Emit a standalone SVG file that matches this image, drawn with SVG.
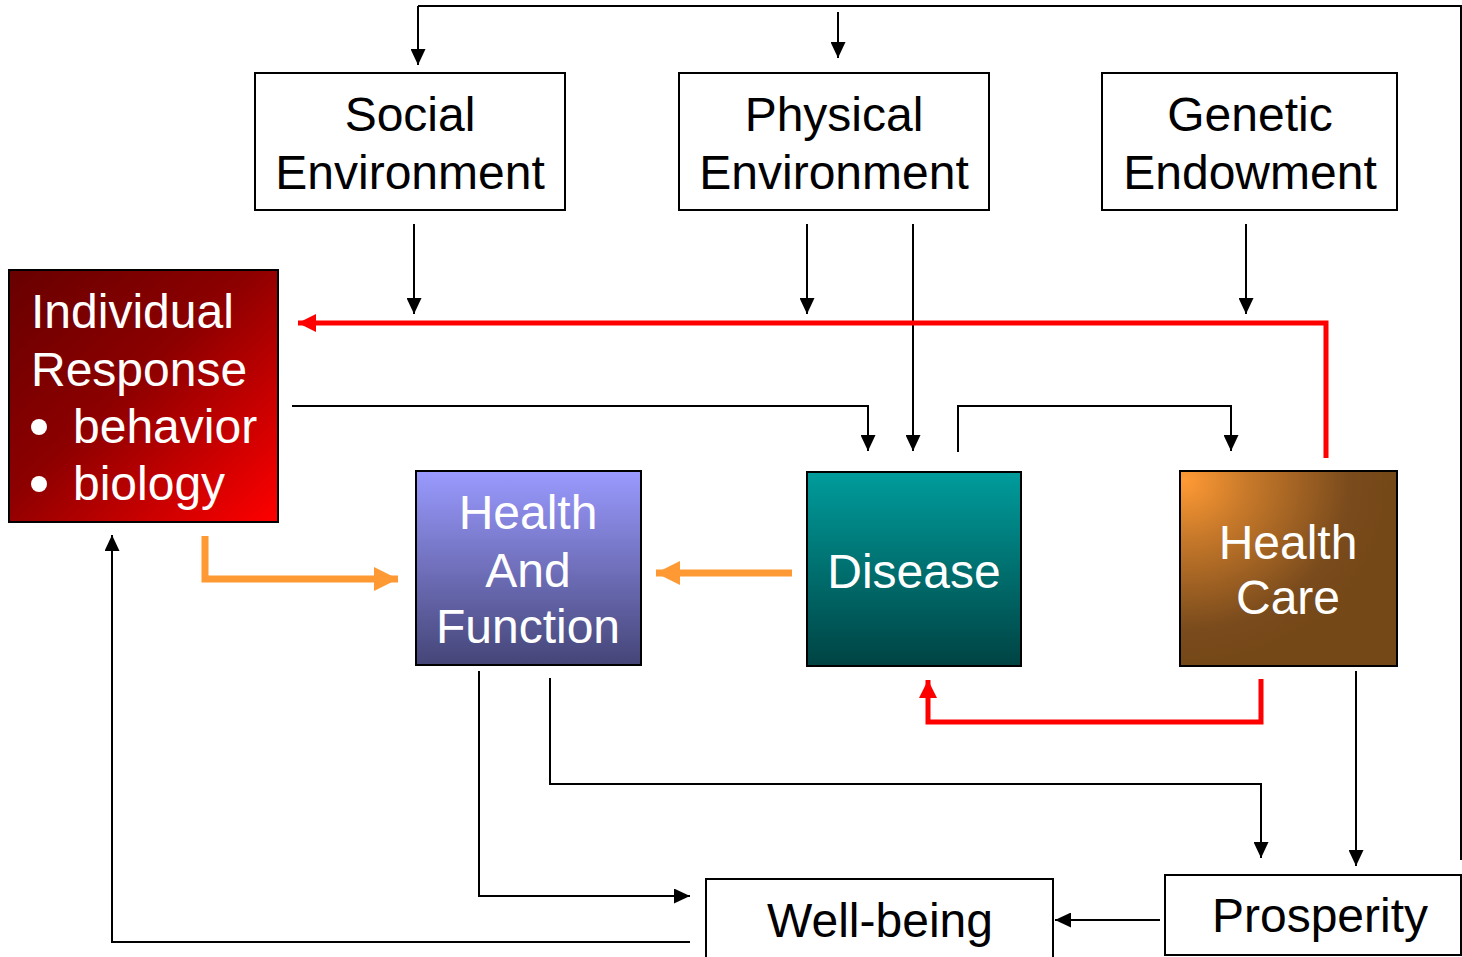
<svg xmlns="http://www.w3.org/2000/svg" width="1462" height="957" viewBox="0 0 1462 957">
<defs>
<style>
.box{fill:#fff;stroke:#000;stroke-width:2}
.dark{stroke:#000;stroke-width:2}
.t{font-family:"Liberation Sans",Arial,sans-serif;font-size:48px;fill:#000}
.w{fill:#fff}
.c{text-anchor:middle}
.k{fill:none;stroke:#000;stroke-width:2}
.r{fill:none;stroke:#ff0000;stroke-width:5}
.o{fill:none;stroke:#ff9933;stroke-width:7}
</style>
<linearGradient id="gIR" x1="0" y1="0" x2="1" y2="1">
<stop offset="0" stop-color="#680000"/>
<stop offset="0.45" stop-color="#8c0000"/>
<stop offset="1" stop-color="#ff0000"/>
</linearGradient>
<linearGradient id="gHF" x1="0" y1="0" x2="0" y2="1">
<stop offset="0" stop-color="#9a9aff"/>
<stop offset="1" stop-color="#454578"/>
</linearGradient>
<linearGradient id="gD" x1="0" y1="0" x2="0" y2="1">
<stop offset="0" stop-color="#009c9c"/>
<stop offset="1" stop-color="#004343"/>
</linearGradient>
<radialGradient id="gHC" cx="0.02" cy="0.05" r="0.95" fx="0.02" fy="0.05">
<stop offset="0" stop-color="#ff9a35"/>
<stop offset="0.3" stop-color="#c97a2a"/>
<stop offset="0.8" stop-color="#7a4b1c"/>
<stop offset="1" stop-color="#754818"/>
</radialGradient>
<marker id="ak" markerUnits="userSpaceOnUse" markerWidth="16" markerHeight="15" refX="16" refY="7.5" orient="auto" viewBox="0 0 16 15">
<path d="M0,0 L16,7.5 L0,15 z" fill="#000"/>
</marker>
<marker id="ar" markerUnits="userSpaceOnUse" markerWidth="18" markerHeight="18" refX="18" refY="9" orient="auto" viewBox="0 0 18 18">
<path d="M0,0 L18,9 L0,18 z" fill="#ff0000"/>
</marker>
<marker id="ao" markerUnits="userSpaceOnUse" markerWidth="24" markerHeight="24" refX="24" refY="12" orient="auto" viewBox="0 0 24 24">
<path d="M0,0 L24,12 L0,24 z" fill="#ff9933"/>
</marker>
</defs>
<rect width="1462" height="957" fill="#fff"/>

<g id="connectors">
<path class="k" d="M418,6 H1461 V860"/>
<path class="k" d="M418,6 V65" marker-end="url(#ak)"/>
<path class="k" d="M838,12 V58" marker-end="url(#ak)"/>
<path class="k" d="M414,224 V314" marker-end="url(#ak)"/>
<path class="k" d="M807,224 V314" marker-end="url(#ak)"/>
<path class="k" d="M913,224 V451" marker-end="url(#ak)"/>
<path class="k" d="M1246,224 V314" marker-end="url(#ak)"/>
<path class="r" d="M1326,458 V323 H298" marker-end="url(#ar)"/>
<path class="k" d="M292,406 H868 V451" marker-end="url(#ak)"/>
<path class="k" d="M958,452 V406 H1231 V451" marker-end="url(#ak)"/>
<path class="o" d="M205,536 V579 H398" marker-end="url(#ao)"/>
<path class="o" d="M792,573 H656" marker-end="url(#ao)"/>
<path class="r" d="M1261,679 V722 H928 V680" marker-end="url(#ar)"/>
<path class="k" d="M479,671 V896 H690" marker-end="url(#ak)"/>
<path class="k" d="M550,678 V784 H1261 V858" marker-end="url(#ak)"/>
<path class="k" d="M1356,671 V866" marker-end="url(#ak)"/>
<path class="k" d="M1160,920 H1055" marker-end="url(#ak)"/>
<path class="k" d="M690,942 H112 V535" marker-end="url(#ak)"/>
</g>

<g id="social">
<rect class="box" x="255" y="73" width="310" height="137"/>
<text class="t c" x="410" y="131">Social</text>
<text class="t c" x="410" y="189">Environment</text>
</g>
<g id="physical">
<rect class="box" x="679" y="73" width="310" height="137"/>
<text class="t c" x="834" y="131">Physical</text>
<text class="t c" x="834" y="189">Environment</text>
</g>
<g id="genetic">
<rect class="box" x="1102" y="73" width="295" height="137"/>
<text class="t c" x="1250" y="131">Genetic</text>
<text class="t c" x="1250" y="189">Endowment</text>
</g>
<g id="individual">
<rect x="9" y="270" width="269" height="252" fill="url(#gIR)" class="dark"/>
<text class="t w" x="31" y="328">Individual</text>
<text class="t w" x="31" y="386">Response</text>
<circle cx="39" cy="427" r="8" fill="#fff"/>
<text class="t w" x="73" y="443">behavior</text>
<circle cx="39" cy="484" r="8" fill="#fff"/>
<text class="t w" x="73" y="500">biology</text>
</g>
<g id="health-function">
<rect x="416" y="471" width="225" height="194" fill="url(#gHF)" class="dark"/>
<text class="t w c" x="528" y="529">Health</text>
<text class="t w c" x="528" y="587">And</text>
<text class="t w c" x="528" y="643">Function</text>
</g>
<g id="disease">
<rect x="807" y="472" width="214" height="194" fill="url(#gD)" class="dark"/>
<text class="t w c" x="914" y="588">Disease</text>
</g>
<g id="health-care">
<rect x="1180" y="471" width="217" height="195" fill="url(#gHC)" class="dark"/>
<text class="t w c" x="1288" y="559">Health</text>
<text class="t w c" x="1288" y="614">Care</text>
</g>
<g id="wellbeing">
<rect class="box" x="706" y="879" width="347" height="90"/>
<text class="t c" x="880" y="937">Well-being</text>
</g>
<g id="prosperity">
<rect class="box" x="1165" y="875" width="296" height="80"/>
<text class="t c" x="1320" y="932">Prosperity</text>
</g>
</svg>
